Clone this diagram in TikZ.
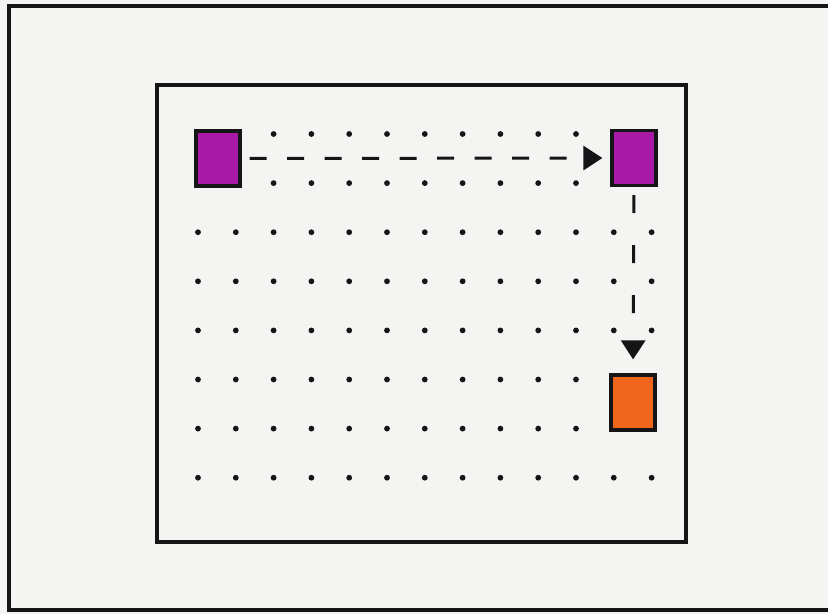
\documentclass[tikz,border=0pt]{standalone}
\usetikzlibrary{arrows.meta}
\definecolor{paper}{HTML}{F4F4F2}
\definecolor{ink}{HTML}{151518}
\definecolor{mag}{HTML}{A81AA6}
\definecolor{orng}{HTML}{F0661C}
\tikzset{
  block/.style={draw=ink, line width=3.2pt, minimum width=44pt, minimum height=55pt, inner sep=0pt},
  dot/.style={fill=ink},
  move/.style={draw=ink, line width=3pt, -{Triangle[length=19pt,width=24pt]}}
}
\begin{document}
\begin{tikzpicture}[x=1pt,y=-1pt]
\useasboundingbox (0,0) rectangle (828,614);
\clip (0,0) rectangle (828,614);
\fill[paper] (0,0) rectangle (828,614);
% outer frame (right side runs off the page)
\draw[ink, line width=4.5pt] (840,6) -- (9,6) -- (9,610) -- (840,610);
% inner frame
\draw[ink, line width=3.6pt] (157,85) rectangle (686,542);
% dot grid
\foreach \c in {3,...,11} {
  \foreach \r in {1,2} {
    \fill[dot] ({198+37.8*(\c-1)},{134+49.1*(\r-1)}) circle[radius=2.9pt];
  }
}
\foreach \c in {1,...,13} {
  \foreach \r in {3,4,5,8} {
    \fill[dot] ({198+37.8*(\c-1)},{134+49.1*(\r-1)}) circle[radius=2.9pt];
  }
}
\foreach \c in {1,...,11} {
  \foreach \r in {6,7} {
    \fill[dot] ({198+37.8*(\c-1)},{134+49.1*(\r-1)}) circle[radius=2.9pt];
  }
}
% blocks
\node[block, fill=mag] (start) at (218,158.5) {};
\node[block, fill=mag] (mid) at (634,158) {};
\node[block, fill=orng] (goal) at (633,402.5) {};
% moves
\draw[move, dash pattern=on 17pt off 20.5pt, shorten <=8pt, shorten >=8pt] (start.east) -- (mid.west);
\draw[move, dash pattern=on 18pt off 32pt, shorten <=8pt, shorten >=14pt] (mid.south) -- (goal.north);
\end{tikzpicture}
\end{document}
